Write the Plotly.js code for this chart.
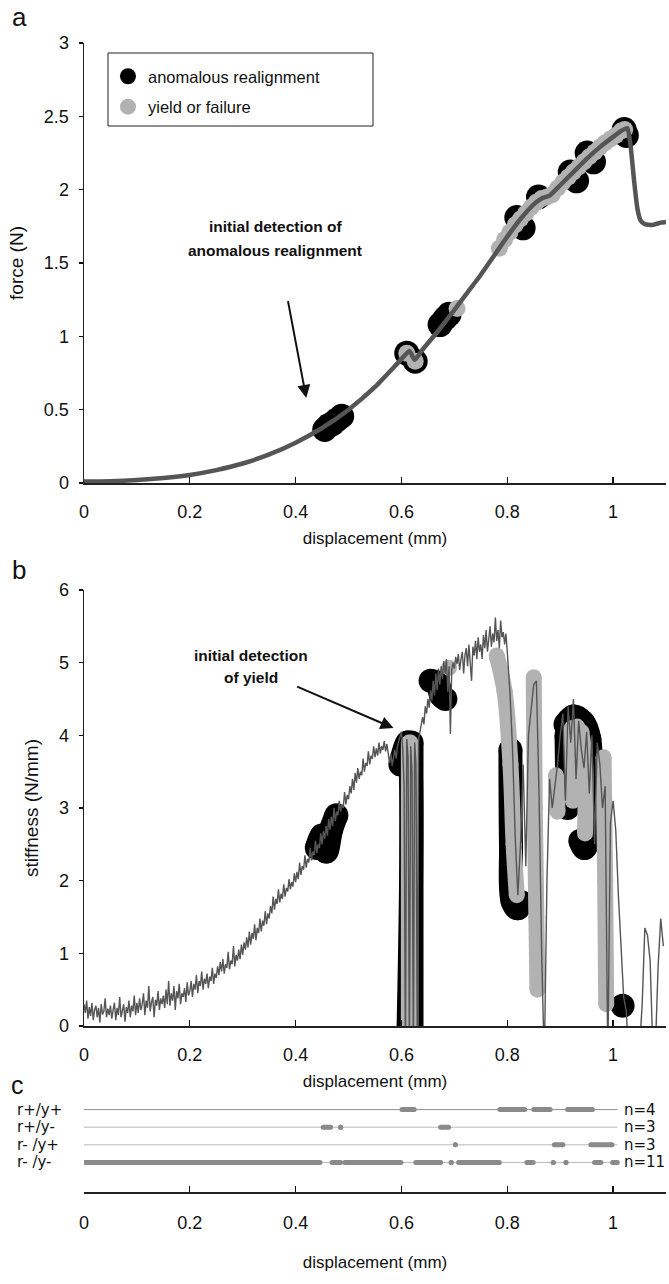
<!DOCTYPE html>
<html><head><meta charset="utf-8">
<script src="https://cdn.plot.ly/plotly-3.0.1.min.js"></script>
<style>html,body{margin:0;padding:0;background:#fff}#chart{width:669px;height:1284px}</style>
</head><body><div id="chart"></div>
<script>
// ---------- Panel a: force vs displacement ----------
const forceX = [0, 0.05, 0.1, 0.15, 0.2, 0.25, 0.3, 0.35, 0.4, 0.45, 0.5, 0.55, 0.6, 0.615, 0.625, 0.64, 0.67, 0.7, 0.725, 0.75, 0.775, 0.8, 0.825, 0.85, 0.865, 0.88, 0.9, 0.925, 0.95, 0.975, 1.0, 1.015, 1.027, 1.033, 1.04, 1.046, 1.052, 1.06, 1.075, 1.09, 1.1];
const forceY = [0.01, 0.012, 0.02, 0.034, 0.055, 0.088, 0.133, 0.195, 0.275, 0.375, 0.5, 0.655, 0.845, 0.9, 0.84, 0.91, 1.04, 1.18, 1.30, 1.42, 1.55, 1.68, 1.80, 1.90, 1.94, 1.96, 2.03, 2.12, 2.21, 2.29, 2.36, 2.40, 2.42, 2.3, 2.05, 1.87, 1.79, 1.765, 1.76, 1.775, 1.78];
const realignAX = [0.455, 0.462, 0.47, 0.478, 0.487, 0.61, 0.626, 0.673, 0.682, 0.69, 0.818, 0.83, 0.859, 0.919, 0.931, 0.951, 0.963, 1.021, 1.025];
const realignAY = [0.365, 0.39, 0.405, 0.43, 0.455, 0.885, 0.83, 1.08, 1.12, 1.15, 1.81, 1.74, 1.95, 2.12, 2.06, 2.25, 2.19, 2.41, 2.37];
const yieldAX = [0.61, 0.626, 0.705, 0.785, 0.795, 0.805, 0.815, 0.825, 0.835, 0.845, 0.855, 0.865, 0.875, 0.885, 0.895, 0.905, 0.915, 0.925, 0.935, 0.945, 0.955, 0.965, 0.975, 0.985, 0.995, 1.005, 1.015, 1.022];
const yieldAY = [0.885, 0.83, 1.19, 1.60, 1.66, 1.71, 1.76, 1.80, 1.84, 1.88, 1.915, 1.94, 1.95, 1.965, 2.01, 2.05, 2.085, 2.12, 2.155, 2.19, 2.225, 2.255, 2.29, 2.32, 2.345, 2.37, 2.40, 2.41];

// ---------- Panel b: stiffness vs displacement ----------
const stiffX = [
0,0.0025,0.005,0.0075,0.01,0.0125,0.015,0.0175,0.02,0.0225,0.025,0.0275,0.03,0.0325,0.035,0.0375,0.04,0.0425,0.045,0.0475,
0.05,0.0525,0.055,0.0575,0.06,0.0625,0.065,0.0675,0.07,0.0725,0.075,0.0775,0.08,0.0825,0.085,0.0875,0.09,0.0925,0.095,0.0975,
0.1,0.1025,0.105,0.1075,0.11,0.1125,0.115,0.1175,0.12,0.1225,0.125,0.1275,0.13,0.1325,0.135,0.1375,0.14,0.1425,0.145,0.1475,
0.15,0.1525,0.155,0.1575,0.16,0.1625,0.165,0.1675,0.17,0.1725,0.175,0.1775,0.18,0.1825,0.185,0.1875,0.19,0.1925,0.195,0.1975,
0.2,0.2025,0.205,0.2075,0.21,0.2125,0.215,0.2175,0.22,0.2225,0.225,0.2275,0.23,0.2325,0.235,0.2375,0.24,0.2425,0.245,0.2475,
0.25,0.2525,0.255,0.2575,0.26,0.2625,0.265,0.2675,0.27,0.2725,0.275,0.2775,0.28,0.2825,0.285,0.2875,0.29,0.2925,0.295,0.2975,
0.3,0.3025,0.305,0.3075,0.31,0.3125,0.315,0.3175,0.32,0.3225,0.325,0.3275,0.33,0.3325,0.335,0.3375,0.34,0.3425,0.345,0.3475,
0.35,0.3525,0.355,0.3575,0.36,0.3625,0.365,0.3675,0.37,0.3725,0.375,0.3775,0.38,0.3825,0.385,0.3875,0.39,0.3925,0.395,0.3975,
0.4,0.4025,0.405,0.4075,0.41,0.4125,0.415,0.4175,0.42,0.4225,0.425,0.4275,0.43,0.4325,0.435,0.4375,0.44,0.4425,0.445,0.4475,
0.45,0.4525,0.455,0.4575,0.46,0.4625,0.465,0.4675,0.47,0.4725,0.475,0.4775,0.48,0.4825,0.485,0.4875,0.49,0.4925,0.495,0.4975,
0.5,0.5025,0.505,0.5075,0.51,0.5125,0.515,0.5175,0.52,0.5225,0.525,0.5275,0.53,0.5325,0.535,0.5375,0.54,0.5425,0.545,0.5475,
0.55,0.5525,0.555,0.5575,0.56,0.5625,0.565,0.5675,0.57,0.5725,0.575,0.5775,0.58,0.5825,0.585,0.5875,0.59,0.5925,0.595,0.5975,
0.6,0.6025,0.605,0.6075,0.61,0.6125,0.615,0.6175,0.62,0.6225,0.625,0.6275,0.63,0.6325,0.635,0.6375,0.64,0.6425,0.645,0.6475,
0.65,0.6525,0.655,0.6575,0.66,0.6625,0.665,0.6675,0.67,0.6725,0.675,0.6775,0.68,0.6825,0.685,0.6875,0.69,0.6925,0.695,0.6975,
0.7,0.7025,0.705,0.7075,0.71,0.7125,0.715,0.7175,0.72,0.7225,0.725,0.7275,0.73,0.7325,0.735,0.7375,0.74,0.7425,0.745,0.7475,
0.75,0.7525,0.755,0.7575,0.76,0.7625,0.765,0.7675,0.77,0.7725,0.775,0.7775,0.78,0.7825,0.785,0.7875,0.79,0.7925,0.795,0.7975,
0.8,0.805,0.81,0.815,0.82,0.825,0.83,0.835,0.84,0.845,0.85,0.855,0.86,0.865,0.87,0.875,0.88,0.885,0.89,0.895,
0.9,0.905,0.91,0.915,0.92,0.925,0.93,0.935,0.94,0.945,0.95,0.955,0.96,0.965,0.97,0.975,0.98,0.985,0.99,0.995,
1.0,1.005,1.01,1.015,1.02,1.025,1.03,1.035,1.04,1.045,1.05,1.055,1.06,1.065,1.07,1.075,1.08,1.085,1.09,1.095];
const stiffY = [
0.30,0.18,0.35,0.10,0.26,0.14,0.32,0.08,0.22,0.28,0.12,0.25,0.05,0.30,0.16,0.20,0.38,0.12,0.24,0.15,
0.28,0.10,0.22,0.32,0.08,0.25,0.15,0.40,0.12,0.22,0.30,0.06,0.26,0.18,0.35,0.12,0.28,0.20,0.42,0.15,
0.32,0.18,0.38,0.22,0.30,0.45,0.15,0.35,0.25,0.55,0.20,0.32,0.40,0.12,0.36,0.28,0.48,0.22,0.38,0.30,
0.42,0.25,0.50,0.30,0.62,0.28,0.45,0.35,0.55,0.22,0.48,0.38,0.58,0.30,0.45,0.40,0.52,0.33,0.60,0.42,
0.48,0.62,0.40,0.58,0.50,0.70,0.45,0.62,0.55,0.75,0.50,0.65,0.58,0.72,0.52,0.68,0.62,0.80,0.58,0.72,
0.66,0.82,0.70,0.88,0.75,0.92,0.72,0.85,0.80,1.02,0.78,0.90,0.85,1.10,0.82,0.98,0.90,1.05,0.92,1.12,
0.98,1.15,1.05,1.22,1.08,1.30,1.12,1.28,1.20,1.40,1.18,1.35,1.28,1.48,1.30,1.45,1.38,1.58,1.40,1.55,
1.48,1.65,1.55,1.78,1.60,1.75,1.68,1.88,1.70,1.82,1.75,1.95,1.78,1.90,1.85,2.02,1.88,1.98,1.92,2.10,
1.98,2.12,2.02,2.25,2.08,2.20,2.15,2.35,2.18,2.30,2.25,2.45,2.28,2.40,2.35,2.55,2.38,2.50,2.45,2.65,
2.50,2.68,2.58,2.75,2.62,2.85,2.70,2.88,2.75,3.00,2.82,2.95,2.90,3.10,2.95,3.05,3.00,3.22,3.05,3.18,
3.12,3.30,3.20,3.40,3.25,3.48,3.35,3.55,3.40,3.50,3.45,3.68,3.50,3.62,3.58,3.78,3.60,3.72,3.68,3.85,
3.70,3.82,3.72,3.90,3.75,3.85,3.80,3.92,3.78,3.88,3.70,3.62,3.75,3.58,3.70,3.80,3.68,3.85,3.92,3.98,
4.05,3.80,3.30,-0.5,3.95,3.70,-0.5,3.85,3.50,-0.5,3.90,3.60,-0.5,3.95,4.05,4.15,4.25,4.15,4.40,4.30,
4.50,4.38,4.62,4.48,4.75,4.55,4.85,4.62,4.92,4.70,4.95,4.78,5.02,4.85,5.05,4.60,4.95,4.02,4.90,5.00,
4.92,5.08,4.98,5.12,4.90,5.05,5.15,4.85,5.10,5.20,4.95,5.25,5.05,4.75,5.22,5.10,5.30,5.05,5.35,5.15,
5.25,5.05,5.38,5.20,5.45,5.15,5.32,5.50,5.22,5.40,5.28,5.62,5.30,5.45,5.20,5.58,5.35,5.42,5.25,5.40,
5.15,4.60,3.80,2.60,1.80,2.50,3.60,2.20,4.00,4.40,4.70,4.75,3.20,1.00,-0.5,2.00,3.40,3.00,3.30,3.60,
4.00,4.30,3.10,4.40,3.90,4.50,3.40,4.20,3.80,3.55,4.05,3.20,4.00,2.50,3.90,3.60,3.00,3.30,-0.5,2.80,
3.10,2.70,1.80,1.00,0.40,0.20,-0.5,-0.3,-0.3,-0.3,-0.3,0.30,1.35,1.25,0.90,-0.3,-0.3,0.80,1.48,1.10];
const realignBX = [0.44,0.45,0.458,0.467,0.477, null, 0.598,0.612,0.612, null, 0.619,0.619, null, 0.655,0.668,0.675,0.683, null,
  0.806,0.807,0.81,0.82,0.828, null, 0.91,0.925,0.943,0.955,0.957,0.955,0.946,0.938, null, 0.912,0.914, null, 1.018];
const realignBY = [2.45,2.62,2.4,2.7,2.9, null, 3.6,3.9,-0.5, null, 3.9,-0.5, null, 4.75,4.72,4.55,4.5, null,
  3.8,2.5,1.72,1.62,1.7, null, 4.15,4.26,4.18,3.95,3.0,2.6,2.45,2.55, null, 4.0,3.0, null, 0.28];
const yieldBX = [0.614,0.614, null, 0.617,0.617, null, 0.69, null, 0.78,0.795,0.806,0.812,0.818, null, 0.85,0.852,0.855,0.857, null,
  0.892,0.895, null, 0.922,0.924, null, 0.932,0.934, null, 0.94,0.947,0.947, null, 0.982,0.985,0.987];
const yieldBY = [3.9,-0.5, null, 3.9,-0.5, null, 4.93, null, 5.1,4.6,3.6,2.5,1.8, null, 4.8,3.0,1.5,0.5, null,
  3.45,2.95, null, 4.1,3.1, null, 4.12,3.3, null, 4.05,3.6,2.65, null, 3.7,2.0,0.3];

// ---------- Panel c: classification rows ----------
const rowLabels = ['r+/y+', 'r+/y-', 'r- /y+', 'r- /y-'];
const rowCounts = ['n=4', 'n=3', 'n=3', 'n=11'];
const rowSegments = [
  [[0.601,0.624],[0.786,0.833],[0.850,0.881],[0.914,0.961]],
  [[0.452,0.466],[0.485,0.485],[0.674,0.689]],
  [[0.702,0.702],[0.889,0.905],[0.958,0.998]],
  [[0,0.446],[0.469,0.485],[0.493,0.599],[0.627,0.674],[0.694,0.694],[0.708,0.785],[0.837,0.849],[0.887,0.887],[0.911,0.911],[0.965,0.977],[0.999,1.008]]
];
const rowLineEnd = 1.008;
const xTickVals = [0, 0.2, 0.4, 0.6, 0.8, 1];
const forceTicks = [0, 0.5, 1, 1.5, 2, 2.5, 3];
const stiffTicks = [0, 1, 2, 3, 4, 5, 6];

// ---------- layout helpers ----------
const H = 1284;
const py = p => 1 - p / H;
const FONT = 'Liberation Sans, Arial, sans-serif';
const WIDEFONT = 'DejaVu Sans, Verdana, sans-serif';
const BLACK = '#000000', GRAY = '#b2b2b2', LINE = '#555555';

const traces = [];
// Panel a
traces.push({x: realignAX, y: realignAY, xaxis: 'x', yaxis: 'y', type: 'scatter', mode: 'markers',
  name: 'anomalous realignment', legendgroup: 'g1', marker: {color: BLACK, size: 25}});
traces.push({x: yieldAX, y: yieldAY, xaxis: 'x', yaxis: 'y', type: 'scatter', mode: 'markers',
  name: 'yield or failure', legendgroup: 'g2', marker: {color: GRAY, size: 17}});
traces.push({x: forceX, y: forceY, xaxis: 'x', yaxis: 'y', type: 'scatter', mode: 'lines',
  showlegend: false, line: {color: LINE, width: 4.5, shape: 'spline', smoothing: 0.5}});
// Panel b
traces.push({x: realignBX, y: realignBY, xaxis: 'x2', yaxis: 'y2', type: 'scatter', mode: 'lines+markers',
  showlegend: false, line: {color: BLACK, width: 24, shape: 'spline', smoothing: 1}, marker: {color: BLACK, size: 24}});
traces.push({x: yieldBX, y: yieldBY, xaxis: 'x2', yaxis: 'y2', type: 'scatter', mode: 'lines+markers',
  showlegend: false, line: {color: GRAY, width: 16, shape: 'spline', smoothing: 1}, marker: {color: GRAY, size: 16}});
traces.push({x: stiffX, y: stiffY, xaxis: 'x2', yaxis: 'y2', type: 'scatter', mode: 'lines',
  showlegend: false, line: {color: LINE, width: 1.4}});
// Panel c
rowSegments.forEach((segs, i) => {
  const yv = rowLabels.length - i;
  traces.push({x: [0, rowLineEnd], y: [yv, yv], xaxis: 'x3', yaxis: 'y3', type: 'scatter', mode: 'lines',
    showlegend: false, line: {color: i === 0 ? '#8f8f8f' : '#b8b8b8', width: 1}});
  const xs = [], ys = [];
  segs.forEach(s => { xs.push(s[0], s[1], null); ys.push(yv, yv, null); });
  traces.push({x: xs, y: ys, xaxis: 'x3', yaxis: 'y3', type: 'scatter', mode: 'lines+markers',
    showlegend: false, line: {color: '#8a8a8a', width: 5}, marker: {color: '#8a8a8a', size: 5}});
});

const xBase = {
  range: [0, 1.1], tickvals: xTickVals, ticks: 'inside', ticklen: 6, tickwidth: 1.2, tickcolor: '#111',
  showline: true, linecolor: '#222', linewidth: 1.5, showgrid: false, zeroline: false,
  tickfont: {family: FONT, size: 18, color: '#111'}, ticklabelstandoff: 12,
  title: {text: 'displacement (mm)', font: {family: FONT, size: 17, color: '#111'}, standoff: 11}
};
const yBase = {
  ticks: 'outside', ticklen: 4, tickwidth: 1.2, tickcolor: '#111', showline: true, linecolor: '#222', linewidth: 1.5,
  showgrid: false, zeroline: false, tickfont: {family: FONT, size: 18, color: '#111'}, ticklabelstandoff: 6
};

const annFont = {family: FONT, size: 15.5, color: '#111'};
const panelFont = {family: FONT, size: 26, color: '#111'};
const rowFont = {family: WIDEFONT, size: 15, color: '#111'};
const layout = {
  width: 669, height: 1284, margin: {l: 84, r: 3, t: 0, b: 0},
  paper_bgcolor: '#fff', plot_bgcolor: 'rgba(0,0,0,0)', font: {family: FONT, color: '#111'},
  showlegend: true,
  legend: {x: 0.0412, y: py(59), xanchor: 'left', yanchor: 'top', bgcolor: 'rgba(0,0,0,0)', borderwidth: 0,
    font: {family: FONT, size: 16.5, color: '#111'}, traceorder: 'grouped', tracegroupgap: 6},
  xaxis: Object.assign({}, xBase, {domain: [0, 1], anchor: 'y'}),
  yaxis: Object.assign({}, yBase, {domain: [py(483), py(43)], range: [0, 3], tickvals: forceTicks, anchor: 'x',
    title: {text: 'force (N)', font: {family: FONT, size: 19, color: '#111'}, standoff: 15}}),
  xaxis2: Object.assign({}, xBase, {domain: [0, 1], anchor: 'y2'}),
  yaxis2: Object.assign({}, yBase, {domain: [py(1026), py(590)], range: [0, 6], tickvals: stiffTicks, anchor: 'x2',
    title: {text: 'stiffness (N/mm)', font: {family: FONT, size: 19, color: '#111'}, standoff: 15}}),
  xaxis3: Object.assign({}, xBase, {domain: [0, 1], anchor: 'y3', ticklabelstandoff: 14,
    title: {text: 'displacement (mm)', font: {family: FONT, size: 17, color: '#111'}, standoff: 24}}),
  yaxis3: {domain: [py(1192), py(1100.8)], range: [-0.68, 4.5], anchor: 'x3',
    showline: false, ticks: '', showgrid: false, zeroline: false, showticklabels: false},
  shapes: [
    {type: 'rect', xref: 'paper', yref: 'paper', x0: (108 - 84) / 582, x1: (373 - 84) / 582, y0: py(126), y1: py(53),
     line: {color: '#222', width: 1}, fillcolor: 'rgba(0,0,0,0)', layer: 'below'}
  ],
  annotations: [
    {xref: 'paper', yref: 'paper', x: (10 - 84) / 582, y: 1, yanchor: 'top', text: 'a', showarrow: false, font: panelFont},
    {xref: 'paper', yref: 'paper', x: (10 - 84) / 582, y: py(570), text: 'b', showarrow: false, font: panelFont},
    {xref: 'paper', yref: 'paper', x: (10 - 84) / 582, y: py(1100), yanchor: 'bottom', borderpad: 0, text: 'c', showarrow: false, font: {family: FONT, size: 25, color: '#111'}},
    {xref: 'x', yref: 'y', x: 0.361, y: 1.752, text: '<b>initial detection of</b>', showarrow: false, font: annFont},
    {xref: 'x', yref: 'y', x: 0.361, y: 1.582, text: '<b>anomalous realignment</b>', showarrow: false, font: annFont},
    {xref: 'x', yref: 'y', x: 0.42, y: 0.58, axref: 'x', ayref: 'y', ax: 0.385, ay: 1.25, text: '', showarrow: true,
     arrowhead: 2, arrowsize: 1.3, arrowwidth: 2, arrowcolor: '#111'},
    {xref: 'x2', yref: 'y2', x: 0.316, y: 5.10, text: '<b>initial detection</b>', showarrow: false, font: annFont},
    {xref: 'x2', yref: 'y2', x: 0.316, y: 4.80, text: '<b>of yield</b>', showarrow: false, font: annFont},
    {xref: 'x2', yref: 'y2', x: 0.585, y: 4.1, axref: 'x2', ayref: 'y2', ax: 0.40, ay: 4.68, text: '', showarrow: true,
     arrowhead: 2, arrowsize: 1.3, arrowwidth: 2, arrowcolor: '#111'}
  ].concat(rowCounts.map((t, i) => ({xref: 'x3', yref: 'y3', x: 1.018, y: rowLabels.length - i, text: t, showarrow: false,
    xanchor: 'left', borderpad: 0, font: rowFont})))
   .concat(rowLabels.map((t, i) => ({xref: 'paper', yref: 'y3', x: (16 - 84) / 582, y: rowLabels.length - i, text: t, showarrow: false,
    xanchor: 'left', borderpad: 0, font: rowFont})))
};

Plotly.newPlot('chart', traces, layout, {displayModeBar: false, staticPlot: true});
</script>
</body></html>
